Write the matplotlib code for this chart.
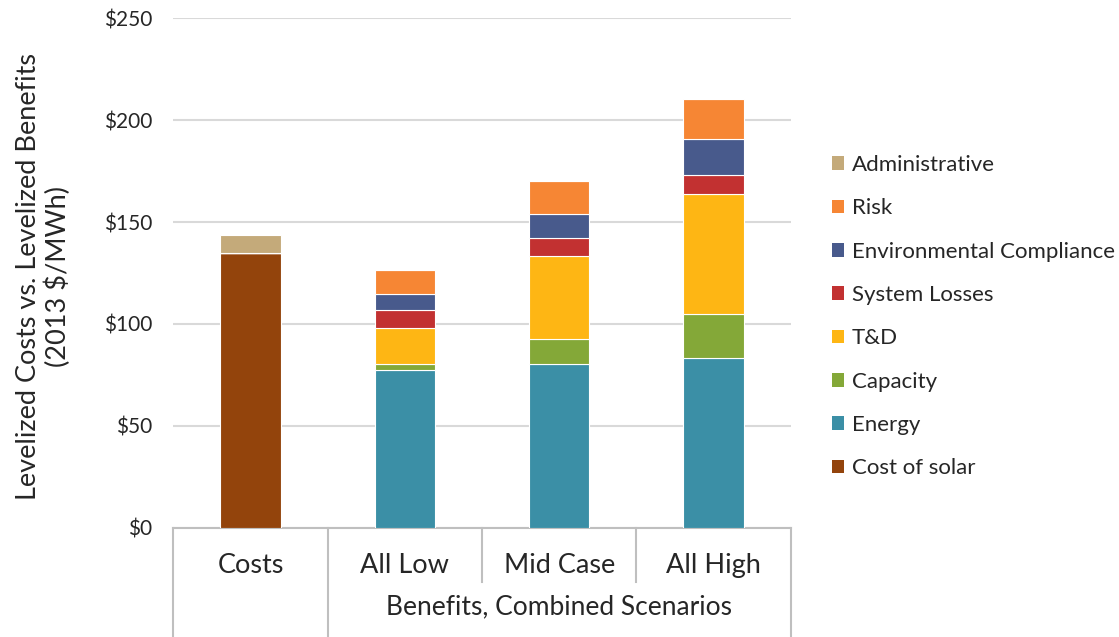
import numpy as np
import matplotlib
matplotlib.use("Agg")
import matplotlib.pyplot as plt
import matplotlib.transforms as mtransforms
from matplotlib.lines import Line2D
from matplotlib.patches import Patch

plt.rcParams['font.family'] = ['Lato', 'DejaVu Sans']

# data ($/MWh)
categories = ['Costs', 'All Low', 'Mid Case', 'All High']
group_label = 'Benefits, Combined Scenarios'

cost_of_solar = [135.0, 0, 0, 0]
energy = [0, 77.4, 80.3, 83.1]
capacity = [0, 2.9, 12.3, 21.8]
t_and_d = [0, 17.7, 40.7, 58.9]
system_losses = [0, 8.6, 9.0, 9.2]
env_compliance = [0, 8.2, 11.5, 18.0]
risk = [0, 11.8, 16.2, 19.3]
administrative = [8.5, 0, 0, 0]

# bottom -> top stacking order
series = [
    ('Cost of solar', cost_of_solar, '#93440C'),
    ('Energy', energy, '#3B8FA6'),
    ('Capacity', capacity, '#84A838'),
    ('T&D', t_and_d, '#FEB614'),
    ('System Losses', system_losses, '#C23131'),
    ('Environmental Compliance', env_compliance, '#485A8C'),
    ('Risk', risk, '#F68634'),
    ('Administrative', administrative, '#C4AA7A'),
]

yticks = [0, 50, 100, 150, 200, 250]
ytick_labels = ['$0', '$50', '$100', '$150', '$200', '$250']

txt = '#262626'
grid_c = '#D9D9D9'
frame_c = '#BFBFBF'

fig = plt.figure(figsize=(11.19, 6.37), dpi=100)
ax = fig.add_axes([0.1549, 0.1716, 0.5517, 0.7997])

x = np.arange(len(categories))
bottom = np.zeros(len(categories))
for name, vals, col in series:
    vals = np.array(vals, dtype=float)
    ax.bar(x, vals, width=0.39, bottom=bottom, color=col,
           edgecolor='white', linewidth=0.8, zorder=3)
    bottom += vals

ax.set_xlim(-0.5, len(categories) - 0.5)
ax.set_ylim(0, 250)
ax.set_yticks(yticks)
ax.set_yticklabels(ytick_labels, fontsize=15, color=txt)
ax.tick_params(axis='y', length=0, pad=15)
ax.set_xticks([])
ax.yaxis.grid(True, color=grid_c, linewidth=1.5, zorder=0)
for s in ['top', 'right', 'left']:
    ax.spines[s].set_visible(False)
ax.spines['bottom'].set_color(frame_c)
ax.spines['bottom'].set_linewidth(1.5)

ax.set_ylabel('Levelized Costs vs. Levelized Benefits\n(2013 $/MWh)',
              fontsize=19.5, color=txt, linespacing=1.2)
ax.yaxis.set_label_coords(-0.165, 0.493)

# category separators below the axis
trans = mtransforms.blended_transform_factory(ax.transData, fig.transFigure)
y0 = 0.1716
for xs in [-0.5, 0.5, 3.5]:
    ax.add_line(Line2D([xs, xs], [y0, 0.0], transform=trans, color=frame_c,
                       linewidth=1.5, clip_on=False))
for xs in [1.5, 2.5]:
    ax.add_line(Line2D([xs, xs], [y0, 0.087], transform=trans, color=frame_c,
                       linewidth=1.5, clip_on=False))

for xi, lab in zip(x, categories):
    ax.text(xi, 0.113, lab, transform=trans, ha='center', va='center',
            fontsize=19.5, color=txt)
ax.text(2.0, 0.048, group_label, transform=trans, ha='center', va='center',
        fontsize=19, color=txt)

handles = [Patch(facecolor=col, edgecolor='none', label=name)
           for name, vals, col in series[::-1]]
fig.legend(handles=handles, loc='upper left', bbox_to_anchor=(0.7255, 0.788),
           frameon=False, fontsize=16, handlelength=0.55, handleheight=0.55,
           handletextpad=0.35, labelspacing=1.05, labelcolor=txt)

fig.savefig('out.png', dpi=100, facecolor='white')
